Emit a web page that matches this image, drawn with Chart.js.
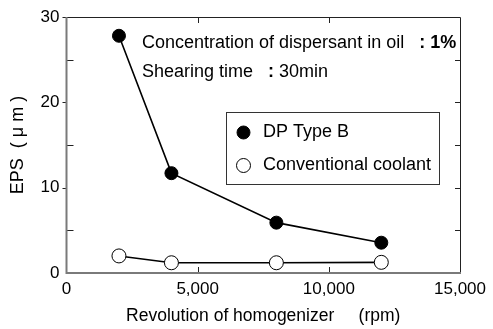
<!DOCTYPE html>
<html>
<head>
<meta charset="utf-8">
<script src="https://cdn.jsdelivr.net/npm/chart.js@4"></script>
<style>
  html, body { margin: 0; padding: 0; background: #fff; }
  #wrap { width: 493px; height: 329px; }
</style>
</head>
<body>
<div id="wrap"><canvas id="c" width="493" height="329"></canvas></div>
<script>
// ---- data ----
const xValues = [2000, 4000, 8000, 12000];
const dpTypeB = [27.8, 11.7, 5.9, 3.55];
const conventional = [2.0, 1.2, 1.2, 1.25];
const seriesNames = ['DP Type B', 'Conventional coolant'];
const xTicks = [0, 5000, 10000, 15000];
const yTicks = [0, 5, 10, 15, 20, 25, 30];
const xTitle = 'Revolution of homogenizer     (rpm)';
const yTitle = 'EPS  ( μ m )';
const noteLine1 = ['Concentration of dispersant in oil   ', ': 1%'];
const noteLine2 = ['Shearing time   ', ': ', '30min'];

const FONT = '"Liberation Sans", Arial, sans-serif';
const AXIS_GRAY = '#7a7a7a';
const NOTE_SIZE = 18;
const LEG_SIZE = 18;

const framePlugin = {
  id: 'frame',
  afterDraw(chart) {
    const ctx = chart.ctx;
    const a = chart.chartArea;
    const xs = chart.scales.x, ys = chart.scales.y;
    ctx.save();
    ctx.strokeStyle = '#222';
    ctx.lineWidth = 1;
    ctx.beginPath();
    ctx.moveTo(a.left, a.top + 0.5); ctx.lineTo(a.right + 0.5, a.top + 0.5);
    ctx.lineTo(a.right + 0.5, a.bottom);
    ctx.stroke();
    ctx.beginPath();
    yTicks.forEach(v => {
      if (v === 0) return;
      const y = Math.round(ys.getPixelForValue(v)) + 0.5;
      if (v % 10 === 0) { ctx.moveTo(a.left - 4, y); ctx.lineTo(a.left, y); }
      else { ctx.moveTo(a.left, y); ctx.lineTo(a.left + 7, y); }
      if (v !== 30) { ctx.moveTo(a.right, y); ctx.lineTo(a.right - 5, y); }
    });
    xTicks.forEach(v => {
      if (v === 0 || v === 15000) return;
      const x = Math.round(xs.getPixelForValue(v)) + 0.5;
      ctx.moveTo(x, a.bottom); ctx.lineTo(x, a.bottom - 6);
      ctx.moveTo(x, a.top); ctx.lineTo(x, a.top + 6);
    });
    ctx.stroke();
    ctx.strokeStyle = AXIS_GRAY;
    ctx.lineWidth = 2;
    ctx.beginPath();
    ctx.moveTo(a.left, a.top);
    ctx.lineTo(a.left, a.bottom);
    ctx.lineTo(a.right + 1, a.bottom);
    ctx.stroke();
    ctx.restore();
  }
};

const notesLegendPlugin = {
  id: 'notesLegend',
  afterDraw(chart) {
    const ctx = chart.ctx;
    ctx.save();
    ctx.fillStyle = '#000';
    ctx.textBaseline = 'middle';
    ctx.textAlign = 'left';
    const reg = NOTE_SIZE + 'px ' + FONT, bold = 'bold ' + NOTE_SIZE + 'px ' + FONT;
    let x = 142;
    ctx.font = reg;
    ctx.fillText(noteLine1[0], x, 43);
    x += ctx.measureText(noteLine1[0]).width;
    ctx.font = bold;
    ctx.fillText(noteLine1[1], x, 43);
    x = 142;
    ctx.font = reg;
    ctx.fillText(noteLine2[0], x, 72);
    x += ctx.measureText(noteLine2[0]).width;
    ctx.font = bold;
    ctx.fillText(noteLine2[1], x, 72);
    x += ctx.measureText(noteLine2[1]).width;
    ctx.font = reg;
    ctx.fillText(noteLine2[2], x, 72);
    // legend box
    ctx.strokeStyle = '#333';
    ctx.lineWidth = 1;
    ctx.strokeRect(226.5, 112.5, 213, 72);
    const rows = [132.5, 165.5];
    chart.data.datasets.forEach((ds, i) => {
      ctx.fillStyle = ds.pointBackgroundColor;
      ctx.strokeStyle = ds.pointBorderColor;
      ctx.lineWidth = ds.pointBorderWidth;
      ctx.beginPath();
      ctx.arc(243.5, rows[i], ds.pointRadius, 0, Math.PI * 2);
      ctx.fill();
      ctx.stroke();
      ctx.fillStyle = '#000';
      ctx.font = LEG_SIZE + 'px ' + FONT;
      ctx.fillText(ds.label, 263, rows[i]);
    });
    ctx.restore();
  }
};

new Chart(document.getElementById('c'), {
  type: 'scatter',
  data: {
    datasets: [
      {
        label: seriesNames[0],
        data: xValues.map((x, i) => ({ x: x, y: dpTypeB[i] })),
        showLine: true,
        borderColor: '#000',
        borderWidth: 1.6,
        pointRadius: 6.5,
        pointBackgroundColor: '#000',
        pointBorderColor: '#000',
        pointBorderWidth: 1,
        tension: 0
      },
      {
        label: seriesNames[1],
        data: xValues.map((x, i) => ({ x: x, y: conventional[i] })),
        showLine: true,
        borderColor: '#000',
        borderWidth: 1.6,
        pointRadius: 7,
        pointBackgroundColor: '#fff',
        pointBorderColor: '#000',
        pointBorderWidth: 1,
        tension: 0
      }
    ]
  },
  options: {
    responsive: false,
    animation: false,
    devicePixelRatio: 1,
    layout: { padding: { top: 17, right: 33, left: 0, bottom: 0 } },
    plugins: { legend: { display: false }, tooltip: { enabled: false } },
    scales: {
      x: {
        type: 'linear',
        min: 0, max: 15000,
        afterBuildTicks(s) { s.ticks = xTicks.map(v => ({ value: v })); },
        afterFit(s) { s.height = 56; s.paddingLeft = 0; s.paddingRight = 0; },
        grid: { display: false, drawTicks: false },
        border: { display: false },
        ticks: {
          color: '#000',
          font: { family: FONT, size: 17 },
          padding: 6,
          maxRotation: 0,
          autoSkip: false,
          callback: v => v.toLocaleString('en-US')
        },
        title: {
          display: true, text: xTitle, color: '#000',
          font: { family: FONT, size: 17.5 },
          padding: { top: 2.5, bottom: 2.5 }
        }
      },
      y: {
        type: 'linear',
        min: 0, max: 30,
        afterBuildTicks(s) { s.ticks = yTicks.map(v => ({ value: v })); },
        afterFit(s) { s.width = 66.5; s.paddingTop = 0; s.paddingBottom = 0; },
        grid: { display: false, drawTicks: false },
        border: { display: false },
        ticks: {
          color: '#000',
          font: { family: FONT, size: 17 },
          padding: 7,
          autoSkip: false,
          callback: v => (v % 10 === 0 ? String(v) : '')
        },
        title: {
          display: true, text: yTitle, color: '#000',
          font: { family: FONT, size: 18 },
          padding: { top: 7.7, bottom: 7.7 }
        }
      }
    }
  },
  plugins: [framePlugin, notesLegendPlugin]
});
</script>
</body>
</html>
